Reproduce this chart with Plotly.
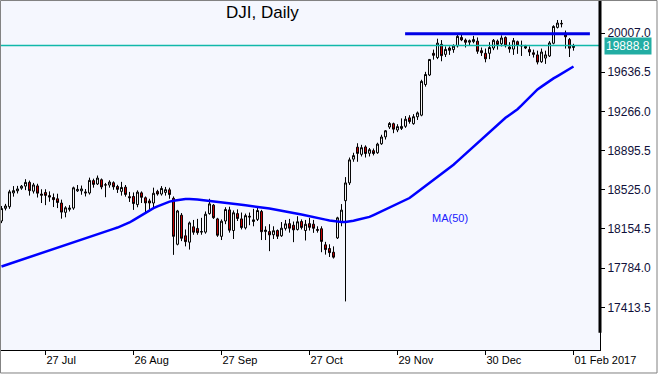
import pandas as pd
import plotly.graph_objects as go

# Sessions shown on the chart (the feed keeps 5 Sep and 16 Jan, skips these days)
skipped_days = ["2016-11-24", "2016-12-26", "2017-01-02"]
dates = pd.bdate_range("2016-07-12", "2017-02-01", freq="C",
                       holidays=skipped_days).strftime("%Y-%m-%d").tolist()

opens = [
    18230, 18350, 18365, 18495, 18515, 18540, 18560, 18595, 18512, 18562,
    18485, 18500, 18470, 18452, 18440, 18400, 18312, 18340, 18352, 18515,
    18515, 18505, 18495, 18612, 18580, 18620, 18572, 18570, 18592, 18556,
    18510, 18550, 18460, 18462, 18385, 18496, 18450, 18420, 18400, 18510,
    18485, 18500, 18525, 18445, 18010, 18285, 18090, 18030, 18175, 18160,
    18125, 18125, 18300, 18380, 18250, 18085, 18230, 18335, 18140, 18300,
    18250, 18165, 18275, 18225, 18245, 18320, 18130, 18130, 18100, 18140,
    18090, 18160, 18205, 18190, 18150, 18225, 18140, 18205, 18200, 18150,
    18157, 18005, 17970, 17935, 18070, 18225, 18422, 18590, 18815, 18928,
    18860, 18930, 18870, 18895, 18875, 18960, 19025, 19118, 19150, 19090,
    19105, 19125, 19205, 19150, 19215, 19230, 19520, 19610, 19815, 19775,
    19900, 19805, 19865, 19850, 19885, 19965, 19940, 19920, 19925, 19930,
    19840, 19815, 19815, 19865, 19930, 19905, 19965, 19875, 19855, 19925,
    19890, 19880, 19850, 19820, 19800, 19735, 19770, 19790, 19910, 20060,
    20098, 20005, 19945, 19870,
]
highs = [
    18372, 18392, 18525, 18560, 18562, 18570, 18625, 18612, 18590, 18582,
    18530, 18530, 18510, 18490, 18488, 18432, 18370, 18380, 18555, 18570,
    18565, 18532, 18640, 18630, 18660, 18632, 18590, 18615, 18605, 18572,
    18600, 18570, 18505, 18500, 18520, 18510, 18462, 18440, 18545, 18525,
    18560, 18552, 18545, 18462, 18335, 18305, 18150, 18225, 18240, 18250,
    18260, 18320, 18440, 18390, 18260, 18245, 18360, 18365, 18330, 18340,
    18310, 18300, 18310, 18345, 18370, 18335, 18180, 18200, 18180, 18150,
    18220, 18240, 18250, 18225, 18275, 18245, 18240, 18260, 18240, 18180,
    18180, 18033, 18010, 17990, 18270, 18390, 18645, 18830, 18875, 18965,
    18950, 18945, 18920, 18915, 18970, 19045, 19090, 19165, 19160, 19145,
    19200, 19222, 19230, 19240, 19265, 19565, 19640, 19760, 19850, 19953,
    19940, 19880, 19880, 19900, 19990, 19990, 19955, 19945, 19980, 19965,
    19870, 19860, 19920, 19950, 19945, 19985, 19975, 19920, 19960, 19935,
    19935, 19895, 19880, 19850, 19840, 19860, 19840, 19930, 20080, 20130,
    20130, 20030, 19960, 19905,
]
lows = [
    18210, 18330, 18345, 18460, 18490, 18525, 18522, 18470, 18490, 18452,
    18400, 18380, 18412, 18362, 18352, 18252, 18265, 18320, 18336, 18505,
    18478, 18462, 18480, 18545, 18570, 18530, 18455, 18545, 18525, 18495,
    18470, 18460, 18410, 18335, 18360, 18400, 18310, 18320, 18360, 18470,
    18470, 18470, 18440, 17910, 18000, 18040, 17990, 17960, 18100, 18100,
    18100, 18110, 18290, 18250, 18080, 18050, 18200, 18120, 18060, 18230,
    18150, 18150, 18190, 18180, 18230, 18050, 18050, 17945, 18060, 18060,
    18080, 18140, 18120, 18030, 18140, 18150, 18046, 18140, 18118, 18120,
    17935, 17912, 17890, 17875, 18060, 18180, 17470, 18570, 18790, 18790,
    18840, 18830, 18840, 18850, 18865, 18950, 19000, 19100, 19060, 19070,
    19090, 19110, 19150, 19140, 19185, 19220, 19500, 19600, 19755, 19760,
    19740, 19780, 19800, 19820, 19870, 19930, 19870, 19890, 19910, 19810,
    19790, 19730, 19760, 19845, 19850, 19880, 19870, 19820, 19800, 19810,
    19790, 19855, 19790, 19775, 19710, 19725, 19715, 19780, 19900, 20050,
    20060, 19860, 19780, 19840,
]
closes = [
    18348, 18372, 18506, 18517, 18533, 18559, 18595, 18517, 18571, 18493,
    18474, 18472, 18456, 18432, 18405, 18314, 18355, 18352, 18544, 18529,
    18533, 18496, 18614, 18576, 18636, 18552, 18570, 18598, 18553, 18529,
    18547, 18481, 18450, 18395, 18503, 18454, 18401, 18400, 18492, 18485,
    18538, 18526, 18480, 18085, 18325, 18067, 18035, 18212, 18124, 18120,
    18130, 18294, 18392, 18261, 18095, 18228, 18339, 18143, 18308, 18254,
    18168, 18281, 18268, 18241, 18329, 18129, 18144, 18099, 18138, 18086,
    18162, 18203, 18162, 18146, 18223, 18169, 18199, 18170, 18161, 18142,
    18037, 17960, 17931, 17888, 18260, 18333, 18590, 18808, 18848, 18869,
    18923, 18868, 18904, 18868, 18957, 19024, 19083, 19152, 19098, 19122,
    19124, 19192, 19170, 19216, 19252, 19550, 19615, 19757, 19796, 19911,
    19793, 19852, 19843, 19883, 19975, 19942, 19919, 19934, 19945, 19834,
    19820, 19763, 19870, 19938, 19899, 19960, 19887, 19856, 19935, 19891,
    19886, 19865, 19827, 19805, 19732, 19827, 19800, 19913, 20069, 20101,
    20094, 19971, 19864, 19888.8,
]
ma50 = [
    17800, 17813, 17826, 17839, 17852, 17865, 17878, 17890,
    17903, 17916, 17929, 17942, 17955, 17967, 17980,
    17992, 18005, 18018, 18030, 18043, 18055, 18068, 18080,
    18093, 18105, 18118, 18131, 18143, 18156, 18168,
    18182, 18198, 18216, 18238, 18262, 18287, 18311, 18334,
    18352, 18369, 18386, 18403,
    18413, 18421, 18428, 18434,
    18437, 18438, 18438,
    18434, 18429, 18425, 18420,
    18416, 18411, 18406, 18401,
    18397, 18392, 18388, 18383, 18378, 18374, 18370, 18366,
    18360, 18354, 18348, 18341, 18335,
    18328, 18321, 18314, 18306,
    18299, 18292, 18285, 18278,
    18270, 18261, 18252, 18243,
    18234, 18227, 18222,
    18220, 18220, 18224,
    18232, 18241, 18250,
    18260, 18269,
    18286, 18304, 18323, 18342, 18362,
    18380, 18397, 18414, 18431, 18447,
    18475, 18503, 18531, 18560, 18588,
    18616, 18644, 18672, 18700, 18728,
    18762, 18796, 18830, 18864, 18898,
    18932, 18966, 19000, 19034, 19066,
    19103, 19140, 19176,
    19205, 19232, 19259, 19287,
    19322, 19360, 19398, 19436, 19474,
    19500, 19528, 19556,
    19578, 19600, 19622, 19644, 19667, 19690,
]

tick_dates = ["2016-07-27", "2016-08-26", "2016-09-27", "2016-10-27",
              "2016-11-29", "2016-12-30", "2017-02-01"]
tick_text = ["27 Jul", "26 Aug", "27 Sep", "27 Oct", "29 Nov", "30 Dec", "01 Feb 2017"]
price_ticks = [17413.5, 17784.0, 18154.5, 18525.0, 18895.5, 19266.0, 19636.5, 20007.0]
last_price = 19888.8
resistance_level = 20000
resistance_start = "2016-12-01"
ma_label = "MA(50)"
ma_label_date = "2016-12-09"
ma_label_price = 18258

n = len(dates)
assert n == len(opens) == len(highs) == len(lows) == len(closes) == len(ma50)

FONT = "Liberation Sans, Arial, sans-serif"

fig = go.Figure()
fig.add_trace(go.Candlestick(
    x=dates, open=opens, high=highs, low=lows, close=closes,
    increasing=dict(fillcolor="#FFFFFF", line=dict(color="#000000", width=1)),
    decreasing=dict(fillcolor="#CC0000", line=dict(color="#000000", width=1)),
    whiskerwidth=0, showlegend=False, hoverinfo="skip",
))
fig.add_trace(go.Scatter(
    x=dates, y=ma50, mode="lines",
    line=dict(color="#0000FF", width=2.5), showlegend=False, hoverinfo="skip",
))

x_start = dates.index(resistance_start) - 0.1
shapes = [
    dict(type="line", xref="paper", yref="y", x0=0, x1=1, y0=last_price, y1=last_price,
         line=dict(color="#10B8AA", width=1.5), layer="above"),
    dict(type="line", xref="x", yref="y", x0=x_start, x1=n - 1 + 4.1,
         y0=resistance_level, y1=resistance_level,
         line=dict(color="#0000E6", width=3), layer="above"),
    dict(type="line", xref="paper", yref="paper", x0=1, x1=1, y0=0.049, y1=1,
         line=dict(color="#000000", width=3)),
    dict(type="rect", xref="paper", yref="paper", x0=0.0008, x1=1.095, y0=-0.0657, y1=0.9985,
         line=dict(color="#808080", width=1)),
]

annotations = [
    dict(text="DJI, Daily", xref="paper", yref="paper", x=0.437, y=0.963,
         xanchor="center", yanchor="middle", showarrow=False,
         font=dict(family=FONT, size=17, color="#000000")),
    dict(text=ma_label, xref="x", yref="y", x=dates.index(ma_label_date), y=ma_label_price,
         xanchor="left", yanchor="middle", showarrow=False,
         font=dict(family=FONT, size=11, color="#2020FF")),
    dict(text=f"{last_price:.1f}", xref="paper", yref="y", x=1, y=last_price,
         xanchor="left", yanchor="middle", xshift=4, showarrow=False,
         bgcolor="#22ADA3", borderpad=1,
         font=dict(family=FONT, size=12, color="#FFFFFF")),
]

fig.update_layout(
    width=660, height=377,
    margin=dict(l=0, r=60, t=0, b=27),
    paper_bgcolor="#FFFFFF", plot_bgcolor="#F5F7FE",
    showlegend=False, boxgap=0.3,
    shapes=shapes, annotations=annotations,
    xaxis=dict(
        type="category", range=[-0.375, n - 1 + 6.625],
        rangeslider=dict(visible=False),
        tickmode="array", tickvals=tick_dates, ticktext=tick_text,
        ticks="outside", ticklen=4, tickcolor="#000000",
        ticklabelposition="outside right",
        showline=True, linecolor="#000000", linewidth=1,
        showgrid=False, zeroline=False,
        tickfont=dict(family=FONT, size=11, color="#000000"),
    ),
    yaxis=dict(
        side="right", range=[17010.7, 20318.9],
        tickmode="array", tickvals=price_ticks,
        ticktext=[f"{v:.1f}" for v in price_ticks],
        ticks="outside", ticklen=4, tickcolor="#000000",
        showline=True, linecolor="#000000", linewidth=1,
        showgrid=False, zeroline=False,
        tickfont=dict(family=FONT, size=12, color="#10103A"),
    ),
)

fig.write_html("out.html", config={"displayModeBar": False},
               post_script="document.body.style.margin='0';")
